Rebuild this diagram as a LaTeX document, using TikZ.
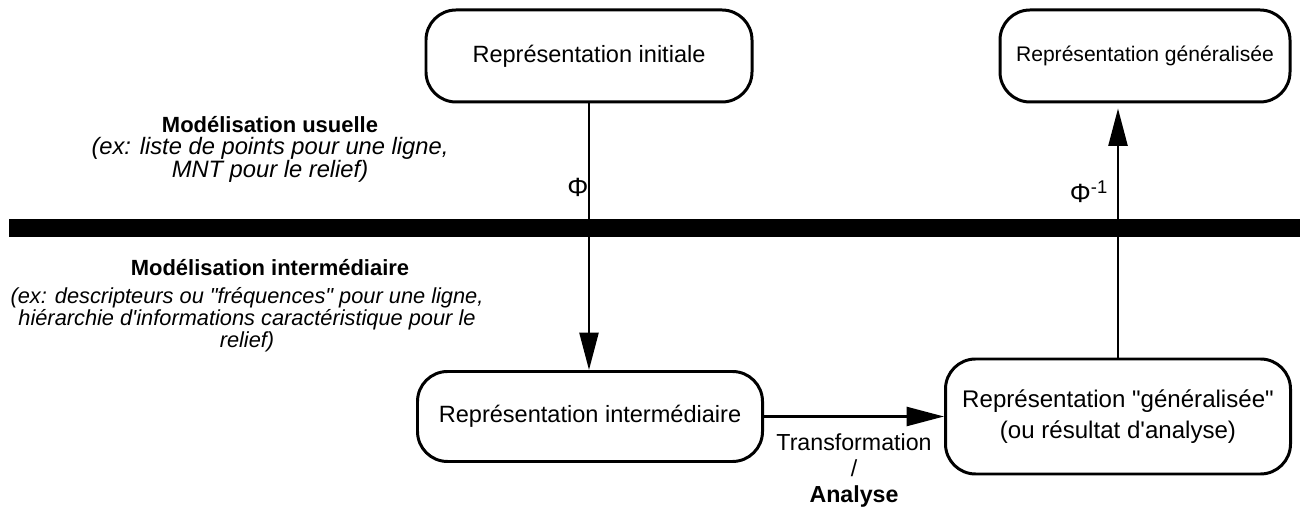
\documentclass[tikz,border=0pt]{standalone}
\usepackage{fontspec}
\setmainfont{Liberation Sans}
\usetikzlibrary{arrows.meta}

\begin{document}
\begin{tikzpicture}[font=\fontsize{13}{16}\selectfont, every node/.style={align=center},
  >={Triangle[length=7.5mm,width=3.8mm]}]
\tikzset{
  repbox/.style={draw, line width=1.7pt, rounded corners=0.6cm, minimum height=1.84cm,
    font=\fontsize{13.4}{18}\selectfont},
  modtitle/.style={font=\bfseries\fontsize{12.5}{15}\selectfont},
  modnote/.style={font=\itshape\fontsize{13.5}{16}\selectfont},
  flow/.style={->, line width=1.5pt}
}
\useasboundingbox (0,0) rectangle (26,10.28);
% barre de separation
\fill (0.18,5.54) rectangle (26,5.90);

\node[repbox, minimum width=6.52cm] (init) at (11.78,9.16) {Représentation initiale};
\node[repbox, minimum width=5.8cm, font=\fontsize{12}{18}\selectfont] (glob) at (22.9,9.16) {Représentation généralisée};
\node[repbox, minimum width=6.9cm, minimum height=1.8cm] (inter) at (11.8,1.95) {Représentation intermédiaire};
\node[repbox, minimum width=6.9cm, minimum height=2.3cm, font=\fontsize{13.7}{18}\selectfont] (gen) at (22.36,1.95)
  {Représentation \textquotedbl généralisée\textquotedbl\\(ou résultat d\textquotesingle analyse)};

\draw[flow] (init.south) -- (init.south |- inter.north);
\draw[flow, shorten >=1mm] (gen.north) -- (gen.north |- glob.south);
\draw[flow] (inter.east) -- (gen.west)
  node[midway, below=0.2cm, font=\fontsize{13.2}{14.8}\selectfont] (transfo) {Transformation\\/\\\textbf{Analyse}};

\node[font=\fontsize{15}{18}\selectfont] (phi) at (11.56,6.54) {Φ};
\node[font=\fontsize{15}{18}\selectfont] (phiinv) at (21.78,6.44) {Φ\textsuperscript{-1}};

\node[modtitle] (usuel) at (5.4,7.78) {Modélisation usuelle};
\node[modnote] (usuelnote) at (5.4,7.09) {(ex: liste de points pour une ligne,\\[-2.8pt]MNT pour le relief)};
\node[modtitle] (interm) at (5.4,4.92) {Modélisation intermédiaire};
\node[modnote, font=\itshape\fontsize{12.4}{15}\selectfont] (intermnote) at (4.94,3.88)
  {(ex: descripteurs ou \textquotedbl fréquences\textquotedbl\ pour une ligne,\\[-2.5pt]hiérarchie d\textquotesingle informations caractéristique pour le\\[-2.5pt]relief)};
\end{tikzpicture}
\end{document}
